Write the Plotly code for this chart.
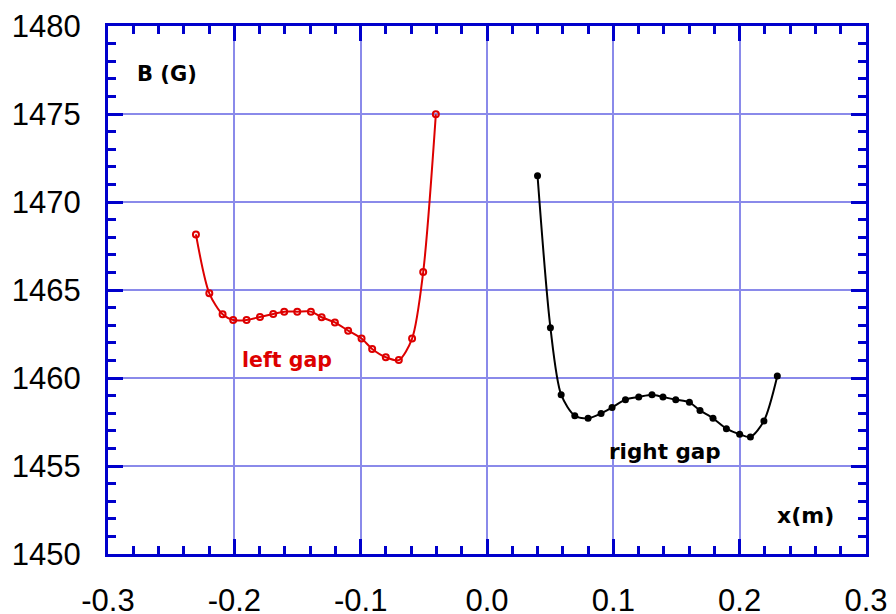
import plotly.graph_objects as go

left_x = [-0.2304, -0.2198, -0.2093, -0.2009, -0.1903, -0.1797, -0.1692, -0.1605, -0.1502, -0.1394,
          -0.1309, -0.1204, -0.1099, -0.0993, -0.0909, -0.0801, -0.0698, -0.0593, -0.0505, -0.0405]
left_b = [1468.16, 1464.81, 1463.62, 1463.30, 1463.30, 1463.47, 1463.64, 1463.77, 1463.77, 1463.77,
          1463.45, 1463.16, 1462.69, 1462.24, 1461.65, 1461.18, 1461.02, 1462.24, 1466.02, 1474.98]

right_x = [0.0400, 0.0502, 0.0587, 0.0695, 0.0800, 0.0903, 0.0990, 0.1096, 0.1201, 0.1306,
           0.1393, 0.1494, 0.1602, 0.1686, 0.1789, 0.1895, 0.2000, 0.2085, 0.2192, 0.2298]
right_b = [1471.49, 1462.86, 1459.05, 1457.86, 1457.71, 1457.99, 1458.33, 1458.77, 1458.92, 1459.05,
           1458.92, 1458.77, 1458.62, 1458.16, 1457.71, 1457.12, 1456.80, 1456.65, 1457.56, 1460.11]

x_ticks = [-0.3, -0.2, -0.1, 0.0, 0.1, 0.2, 0.3]
x_tick_labels = ["-0.3", "-0.2", "-0.1", "0.0", "0.1", "0.2", "0.3"]
y_ticks = [1450, 1455, 1460, 1465, 1470, 1475, 1480]

AXIS = "#0000CC"
GRID = "#8A8AEA"

fig = go.Figure()
fig.add_trace(go.Scatter(
    x=left_x, y=left_b, mode="lines+markers", name="left gap",
    line=dict(color="#DD0000", width=2, shape="spline", smoothing=0.8),
    marker=dict(symbol="circle-open", size=6, color="#DD0000", line=dict(width=2, color="#DD0000")),
))
fig.add_trace(go.Scatter(
    x=right_x, y=right_b, mode="lines+markers", name="right gap",
    line=dict(color="black", width=2, shape="spline", smoothing=0.8),
    marker=dict(symbol="circle", size=7, color="black"),
))

fig.add_annotation(x=-0.253, y=1477.3, text="<b>B (G)</b>", showarrow=False,
                   font=dict(family="DejaVu Sans", size=21, color="black"))
fig.add_annotation(x=-0.158, y=1461.0, text="<b>left gap</b>", showarrow=False,
                   font=dict(family="DejaVu Sans", size=20.5, color="#DD0000"))
fig.add_annotation(x=0.1407, y=1455.8, text="<b>right gap</b>", showarrow=False,
                   font=dict(family="DejaVu Sans", size=21.5, color="black"))
fig.add_annotation(x=0.252, y=1452.2, text="<b>x(m)</b>", showarrow=False,
                   font=dict(family="DejaVu Sans", size=22, color="black"))

axis_common = dict(
    showline=True, linecolor=AXIS, linewidth=3, mirror="allticks",
    ticks="inside", ticklen=15, tickwidth=3, tickcolor=AXIS,
    showgrid=True, gridcolor=GRID, gridwidth=2, zeroline=False, automargin=False,
    tickfont=dict(family="Liberation Sans, Arial", size=31, color="black"),
)

fig.update_xaxes(
    range=[-0.3, 0.3], tickmode="array", tickvals=x_ticks, ticktext=x_tick_labels,
    minor=dict(dtick=0.02, ticks="inside", ticklen=8, tickwidth=3, tickcolor=AXIS, showgrid=False),
    ticklabelstandoff=17,
    **axis_common,
)
fig.update_yaxes(
    range=[1450, 1480], tickmode="array", tickvals=y_ticks,
    minor=dict(dtick=1, ticks="inside", ticklen=8, tickwidth=3, tickcolor=AXIS, showgrid=False),
    ticklabelstandoff=18,
    **axis_common,
)

fig.update_layout(
    width=896, height=614,
    margin=dict(l=108, r=30, t=26, b=60),
    paper_bgcolor="white", plot_bgcolor="white",
    showlegend=False,
)

fig.write_html(
    "out.html",
    config={"displayModeBar": False},
    post_script="document.body.style.margin='0';document.body.style.padding='0';document.body.style.overflow='hidden';",
)
